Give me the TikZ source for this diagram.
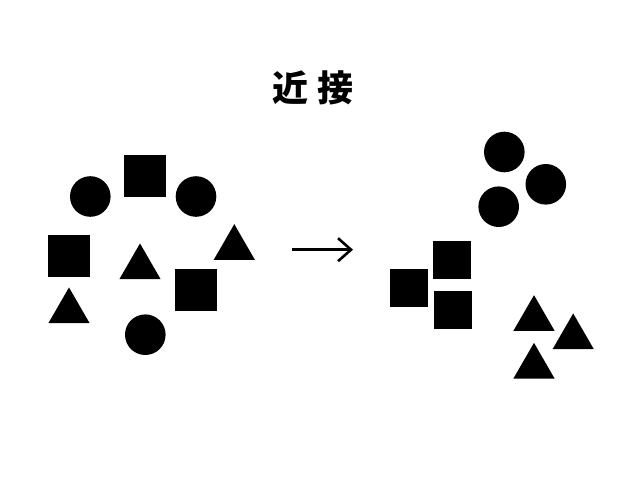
\documentclass[tikz,border=0pt]{standalone}
\usepackage{fontspec}
\newfontfamily\cjk{Noto Sans CJK JP}
\usepackage{tikz}
\usetikzlibrary{arrows.meta,shapes.geometric}
\definecolor{forme}{HTML}{000000}
\tikzset{
  rond/.style={circle, fill=forme, inner sep=0pt, minimum size=40.6pt},
  carre/.style={rectangle, fill=forme, inner sep=0pt, minimum size=#1},
  carre/.default=41.5pt,
  trig/.style={regular polygon, regular polygon sides=3, fill=forme, inner sep=0pt, minimum size=47.7pt},
  titre/.style={font=\cjk\bfseries\fontsize{36}{40}\selectfont, inner sep=0pt},
  arr/.style={-{Straight Barb[length=13pt, width=23pt]}, line width=2.6pt, draw=forme},
}
\begin{document}
\begin{tikzpicture}[x=1pt, y=-1pt]
    \useasboundingbox (0,0) rectangle (638,479);
    \node[titre] (t) at (313,87.5) {近 接};
    % avant
    \node[rond] (c1) at (90.3,196.5) {};
    \node[carre] (s1) at (145,176) {};
    \node[rond] (c2) at (196,196.5) {};
    \node[carre] (s2) at (69,256) {};
    \node[trig] (t1) at (140,267.3) {};
    \node[trig] (t2) at (234.3,248) {};
    \node[carre] (s3) at (196,290) {};
    \node[trig] (t3) at (69,311.3) {};
    \node[rond] (c3) at (145.3,334.7) {};
    % apres
    \node[rond] (c4) at (504.3,152) {};
    \node[rond] (c5) at (545.8,184.3) {};
    \node[rond] (c6) at (498.7,206.7) {};
    \node[carre=37.5pt] (s4) at (452,259.8) {};
    \node[carre=37.5pt] (s5) at (408.8,288) {};
    \node[carre=37.5pt] (s6) at (453,310.2) {};
    \node[trig] (t4) at (534,319) {};
    \node[trig] (t5) at (573.2,337.3) {};
    \node[trig] (t6) at (534,366.7) {};
    \coordinate (a) at (291.5,249.7);
    \coordinate (b) at (353,249.7);
    \draw[arr] (a) -- (b);
  \end{tikzpicture}
\end{document}
